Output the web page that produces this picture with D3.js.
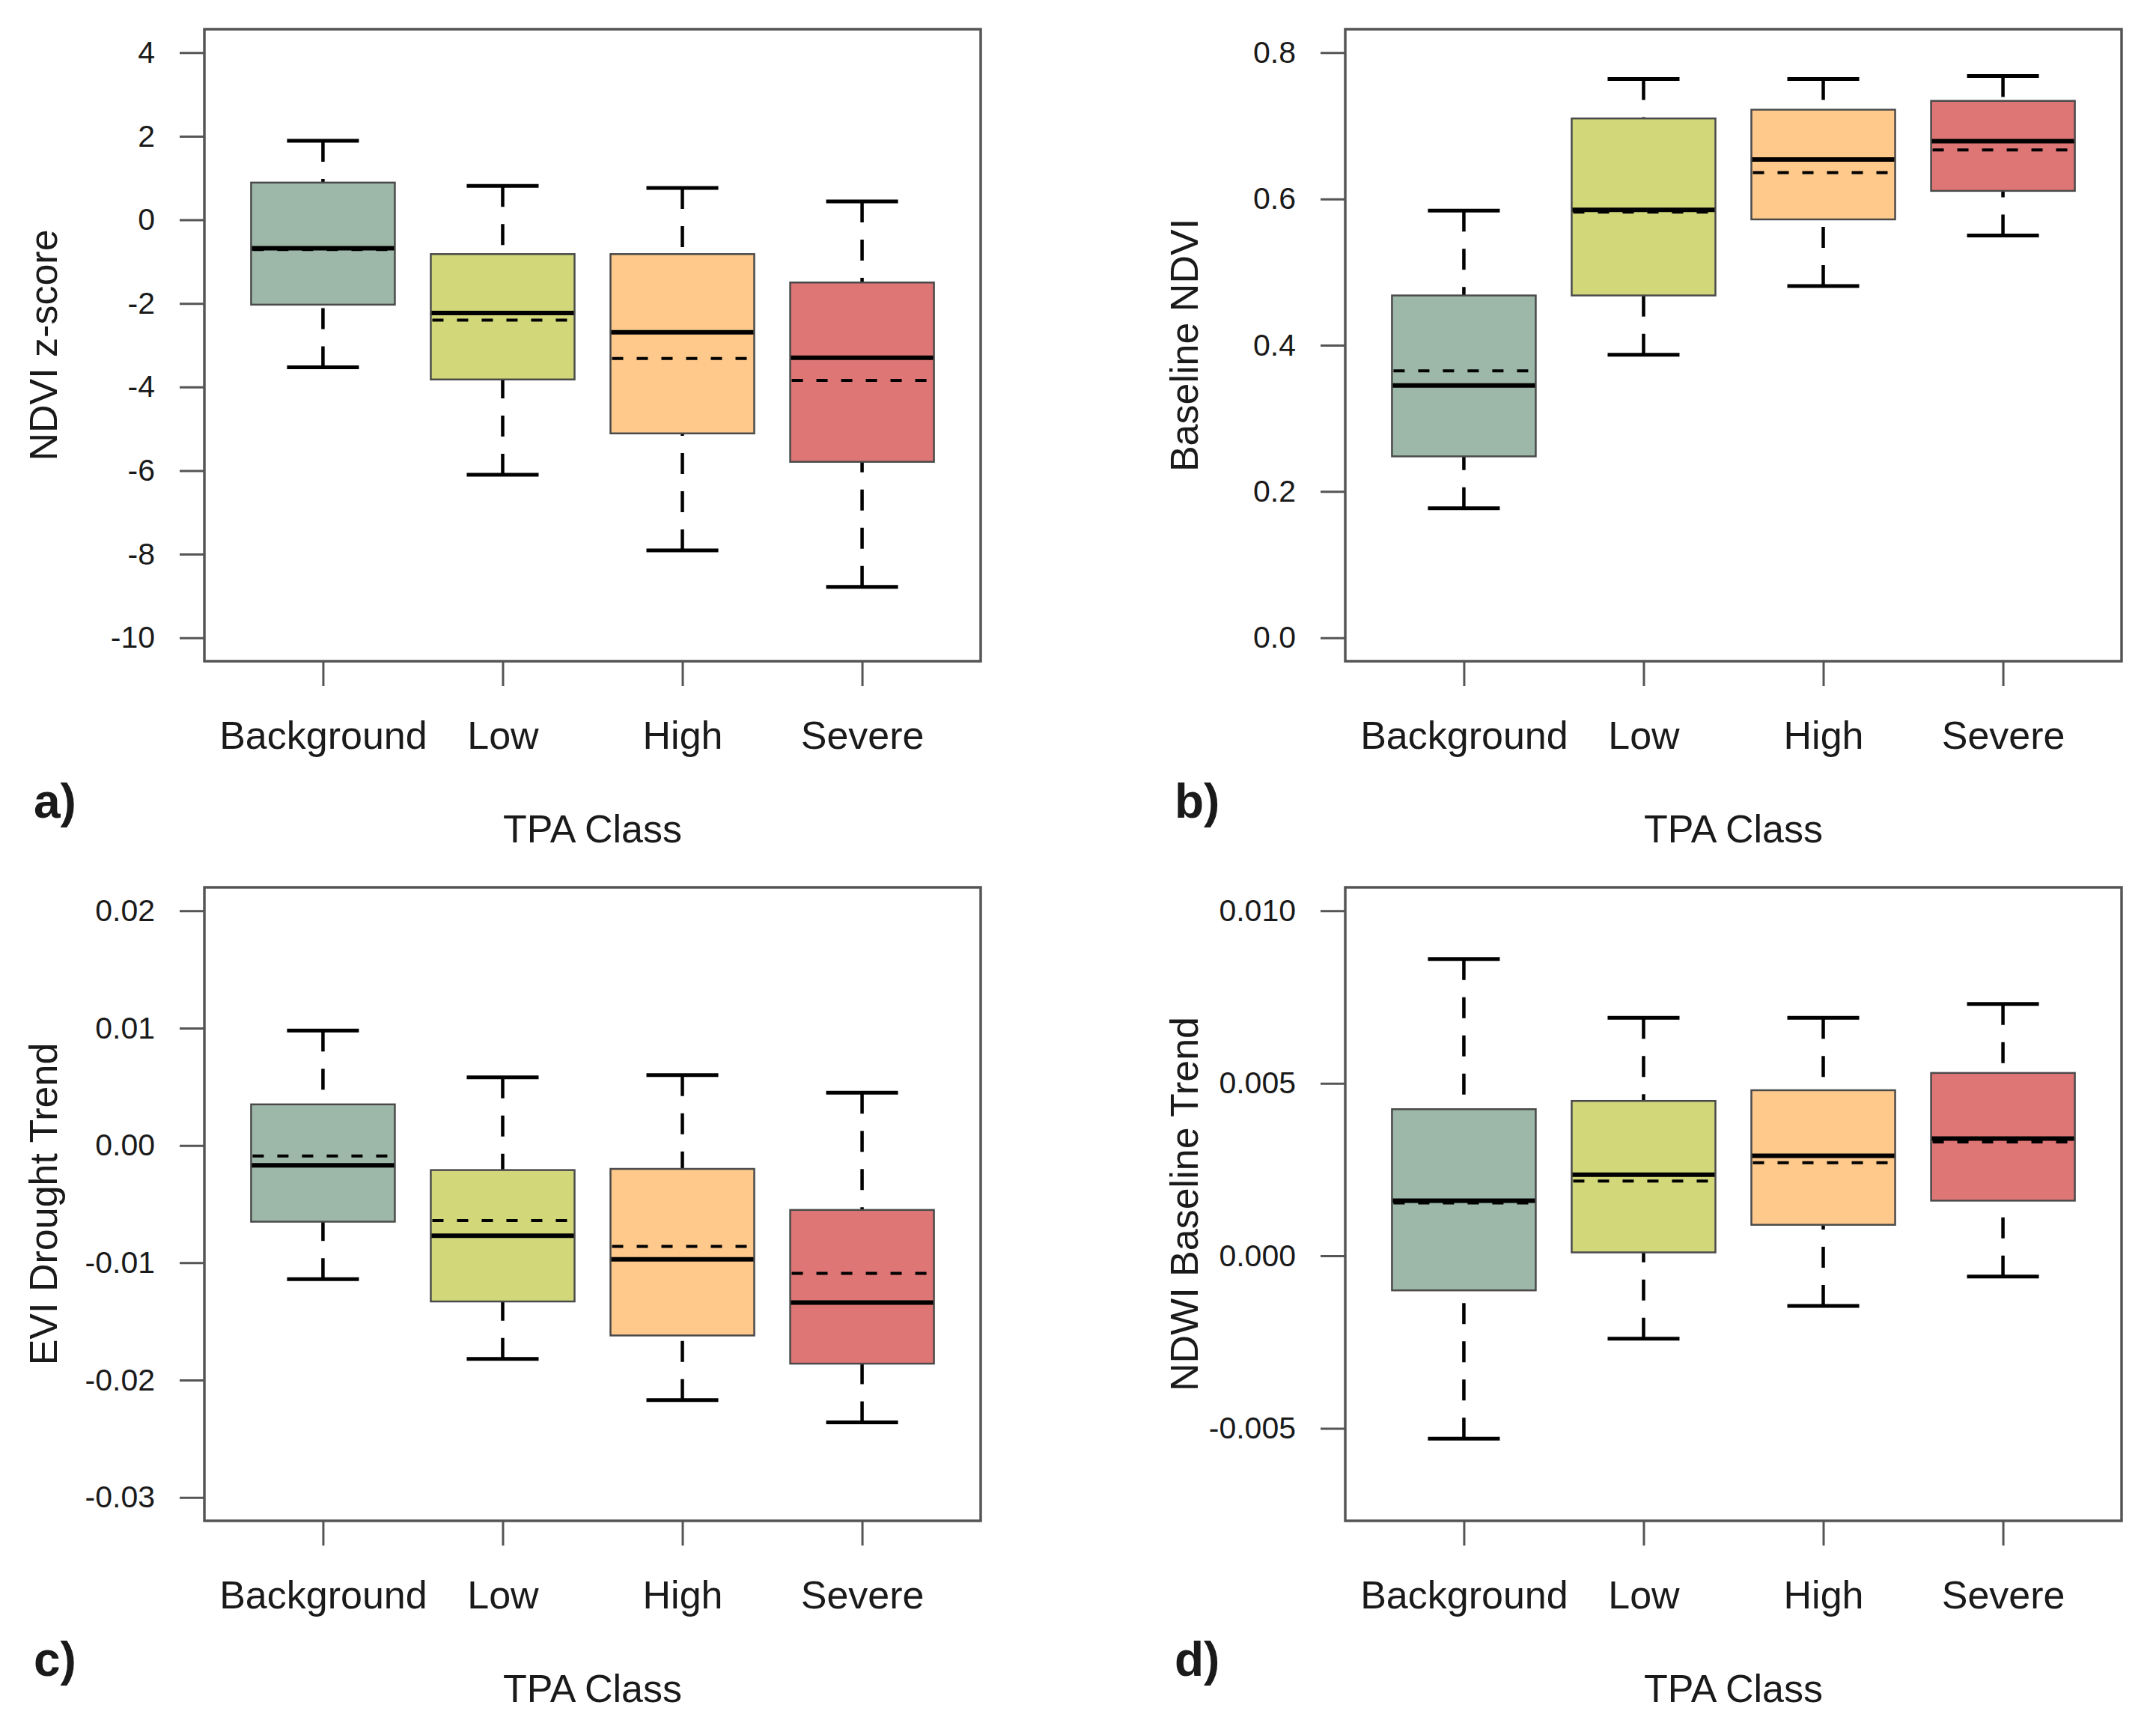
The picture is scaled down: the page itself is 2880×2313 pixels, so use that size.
<!DOCTYPE html>
<html>
<head>
<meta charset="utf-8">
<script src="https://cdn.jsdelivr.net/npm/d3@7"></script>
<style>
  html, body { margin: 0; padding: 0; background: #ffffff; }
  svg { display: block; }
  text { font-family: "Liberation Sans", Arial, sans-serif; fill: #1a1a1a; }
</style>
</head>
<body>
<svg id="chart" width="2880" height="2313"></svg>
<script>
// ---------------- DATA ----------------
const categories = ["Background", "Low", "High", "Severe"];
const xTitle = "TPA Class";

// each row: [lower whisker, Q1, median, Q3, upper whisker, mean]
const ndviZscore = [
  [-3.53, -2.03, -0.68, 0.89, 1.89, -0.71],
  [-6.10, -3.82, -2.23, -0.82, 0.81, -2.40],
  [-7.91, -5.11, -2.69, -0.82, 0.76, -3.32],
  [-8.78, -5.79, -3.30, -1.50, 0.44, -3.84]
];
const baselineNdvi = [
  [0.177, 0.248, 0.345, 0.468, 0.584, 0.365],
  [0.387, 0.468, 0.585, 0.710, 0.764, 0.582],
  [0.481, 0.572, 0.654, 0.722, 0.764, 0.636],
  [0.550, 0.611, 0.679, 0.734, 0.768, 0.667]
];
const eviDroughtTrend = [
  [-0.0114, -0.0065, -0.0017, 0.0035, 0.0098, -0.0009],
  [-0.0182, -0.0133, -0.0077, -0.0021, 0.0058, -0.0064],
  [-0.0217, -0.0162, -0.0097, -0.0020, 0.0060, -0.0086],
  [-0.0236, -0.0186, -0.0134, -0.0055, 0.0045, -0.0109]
];
const ndwiBaselineTrend = [
  [-0.0053, -0.0010, 0.0016, 0.00425, 0.0086, 0.00153],
  [-0.0024, 0.0001, 0.00235, 0.00449, 0.0069, 0.00217],
  [-0.00145, 0.0009, 0.0029, 0.0048, 0.0069, 0.0027],
  [-0.0006, 0.0016, 0.0034, 0.0053, 0.0073, 0.0033]
];

const ticksA = [-10, -8, -6, -4, -2, 0, 2, 4];
const tickLabelsA = ["-10", "-8", "-6", "-4", "-2", "0", "2", "4"];
const ticksB = [0, 0.2, 0.4, 0.6, 0.8];
const tickLabelsB = ["0.0", "0.2", "0.4", "0.6", "0.8"];
const ticksC = [-0.03, -0.02, -0.01, 0, 0.01, 0.02];
const tickLabelsC = ["-0.03", "-0.02", "-0.01", "0.00", "0.01", "0.02"];
const ticksD = [-0.005, 0, 0.005, 0.010];
const tickLabelsD = ["-0.005", "0.000", "0.005", "0.010"];

const yLimA = [-10, 4];
const yLimB = [0, 0.8];
const yLimC = [-0.03, 0.02];
const yLimD = [-0.007, 0.010];

const yTitles = ["NDVI z-score", "Baseline NDVI", "EVI Drought Trend", "NDWI Baseline Trend"];
const panelLabels = ["a)", "b)", "c)", "d)"];

const fillColors = ["#9db8a8", "#d2d87a", "#fec98b", "#df7676"];

// ---------------- LAYOUT ----------------
const frames = [
  { left: 273, right: 1310, top: 39, bottom: 883 },
  { left: 1797, right: 2834, top: 39, bottom: 883 },
  { left: 273, right: 1310, top: 1185, bottom: 2031 },
  { left: 1797, right: 2834, top: 1185, bottom: 2031 }
];

const panels = [
  { stats: ndviZscore, ticks: ticksA, labels: tickLabelsA, ylim: yLimA },
  { stats: baselineNdvi, ticks: ticksB, labels: tickLabelsB, ylim: yLimB },
  { stats: eviDroughtTrend, ticks: ticksC, labels: tickLabelsC, ylim: yLimC },
  { stats: ndwiBaselineTrend, ticks: ticksD, labels: tickLabelsD, ylim: yLimD }
];

const svg = d3.select("#chart");
const FRAME_COL = "#555555";

panels.forEach((p, i) => {
  const f = frames[i];
  const g = svg.append("g");

  const pad = (p.ylim[1] - p.ylim[0]) * 0.04;
  const y = d3.scaleLinear()
    .domain([p.ylim[0] - pad, p.ylim[1] + pad])
    .range([f.bottom, f.top]);
  const x = d3.scalePoint()
    .domain(categories)
    .range([f.left, f.right])
    .padding(0.66);
  const step = x.step();
  const boxW = step * 0.8;
  const stapleW = step * 0.4;

  // y axis
  const yAxis = d3.axisLeft(y)
    .tickValues(p.ticks)
    .tickFormat((d, k) => p.labels[k])
    .tickSizeOuter(0)
    .tickSize(33)
    .tickPadding(33);
  const ya = g.append("g")
    .attr("transform", `translate(${f.left},0)`)
    .call(yAxis);
  ya.select(".domain").remove();
  ya.selectAll(".tick line").attr("stroke", FRAME_COL).attr("stroke-width", 3);
  ya.selectAll(".tick text")
    .attr("font-size", 41)
    .attr("font-family", "'Liberation Sans', Arial, sans-serif")
    .attr("fill", "#1a1a1a");

  // x axis
  const xAxis = d3.axisBottom(x)
    .tickSizeOuter(0)
    .tickSize(33)
    .tickPadding(0);
  const xa = g.append("g")
    .attr("transform", `translate(0,${f.bottom})`)
    .call(xAxis);
  xa.select(".domain").remove();
  xa.selectAll(".tick line").attr("stroke", FRAME_COL).attr("stroke-width", 3);
  xa.selectAll(".tick text")
    .attr("y", 117)
    .attr("dy", 0)
    .attr("font-size", 52)
    .attr("font-family", "'Liberation Sans', Arial, sans-serif")
    .attr("fill", "#1a1a1a");

  // boxes
  const bg = g.append("g");
  categories.forEach((c, k) => {
    const s = p.stats[k];
    const cx = x(c);
    // whiskers (dashed, drawn from staple toward box)
    bg.append("line")
      .attr("x1", cx).attr("x2", cx)
      .attr("y1", y(s[4])).attr("y2", y(s[3]))
      .attr("stroke", "#000").attr("stroke-width", 4.5)
      .attr("stroke-dasharray", "28,23");
    bg.append("line")
      .attr("x1", cx).attr("x2", cx)
      .attr("y1", y(s[0])).attr("y2", y(s[1]))
      .attr("stroke", "#000").attr("stroke-width", 4.5)
      .attr("stroke-dasharray", "28,23");
    // staples
    [s[0], s[4]].forEach(v => {
      bg.append("line")
        .attr("x1", cx - stapleW / 2).attr("x2", cx + stapleW / 2)
        .attr("y1", y(v)).attr("y2", y(v))
        .attr("stroke", "#000").attr("stroke-width", 5);
    });
    // box
    bg.append("rect")
      .attr("x", cx - boxW / 2)
      .attr("y", y(s[3]))
      .attr("width", boxW)
      .attr("height", y(s[1]) - y(s[3]))
      .attr("fill", fillColors[k])
      .attr("stroke", "#4a4a4a")
      .attr("stroke-width", 2.5);
    // mean (dashed)
    bg.append("line")
      .attr("x1", cx - boxW / 2 + 2).attr("x2", cx + boxW / 2 - 2)
      .attr("y1", y(s[5])).attr("y2", y(s[5]))
      .attr("stroke", "#000").attr("stroke-width", 4)
      .attr("stroke-dasharray", "15,18");
    // median
    bg.append("line")
      .attr("x1", cx - boxW / 2 + 1).attr("x2", cx + boxW / 2 - 1)
      .attr("y1", y(s[2])).attr("y2", y(s[2]))
      .attr("stroke", "#000").attr("stroke-width", 6);
  });

  // frame
  g.append("rect")
    .attr("x", f.left).attr("y", f.top)
    .attr("width", f.right - f.left).attr("height", f.bottom - f.top)
    .attr("fill", "none")
    .attr("stroke", FRAME_COL)
    .attr("stroke-width", 3.5);

  // y title
  g.append("text")
    .attr("transform", `translate(${f.left - 197},${(f.top + f.bottom) / 2}) rotate(-90)`)
    .attr("text-anchor", "middle")
    .attr("font-size", 52)
    .text(yTitles[i]);

  // x title
  g.append("text")
    .attr("x", (f.left + f.right) / 2)
    .attr("y", f.bottom + 242)
    .attr("text-anchor", "middle")
    .attr("font-size", 52)
    .text(xTitle);

  // panel label
  g.append("text")
    .attr("x", f.left - 228)
    .attr("y", f.top + 1053)
    .attr("font-size", 64)
    .attr("font-weight", "bold")
    .text(panelLabels[i]);
});
</script>
</body>
</html>
